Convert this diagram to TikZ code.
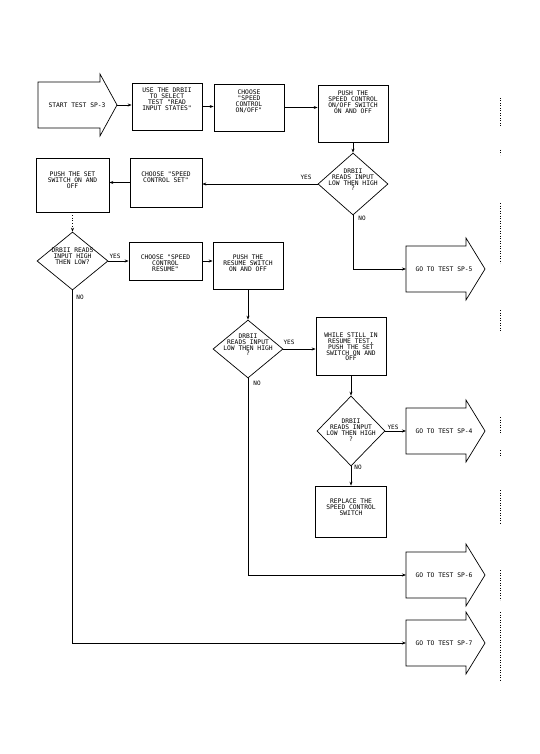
\documentclass[tikz,border=0pt]{standalone}
\usepackage{fontspec}
\newfontfamily\lett{DejaVu Sans Mono}
\usetikzlibrary{shapes.geometric,arrows.meta}
\newcommand\goarr[3]{%
  \draw (406,#2-23) -- (466,#2-23) -- (466,#2-31) -- (485,#2) -- (466,#2+31) -- (466,#2+23) -- (406,#2+23) -- cycle;
  \coordinate (#1) at (406,#2);
  \node[lab] (#1t) at (444,#2) {#3};}
\begin{document}
\begin{tikzpicture}[x=1pt,y=-1pt,line width=0.7pt,
  lab/.style={font=\lett\fontsize{6.3}{5.8}\selectfont, align=center, inner sep=0pt},
  bx/.style={draw, rectangle, inner sep=0pt},
  dec/.style={draw, diamond, inner sep=0pt},
  arr/.style={-{Stealth[length=4pt,width=3pt]}},
  tag/.style={font=\lett\fontsize{6}{6}\selectfont, inner sep=0pt},
  scan/.style={line width=0.5pt, dotted}]
\useasboundingbox (0,0) rectangle (539,754);

% start arrow
\draw (38,82) -- (100,82) -- (100,74) -- (117,105) -- (100,136) -- (100,128) -- (38,128) -- cycle;
\coordinate (sttip) at (117,105);
\node[lab] (stt) at (77,105) {START TEST SP-3};

% boxes
\node[bx, minimum width=70pt, minimum height=47pt,
  label={[lab,anchor=north,yshift=-5pt]north:{USE THE DRBII\\TO SELECT\\TEST "READ\\INPUT STATES"}}] (b1) at (167,106.5) {};
\node[bx, minimum width=70pt, minimum height=47pt,
  label={[lab,anchor=north,yshift=-6pt]north:{CHOOSE\\"SPEED\\CONTROL\\ON/OFF"}}] (b2) at (249,107.5) {};
\node[bx, minimum width=70pt, minimum height=57pt,
  label={[lab,anchor=north,yshift=-6pt]north:{PUSH THE\\SPEED CONTROL\\ON/OFF SWITCH\\ON AND OFF}}] (b3) at (353,113.5) {};
\node[bx, minimum width=72pt, minimum height=49pt,
  label={[lab,anchor=north,yshift=-14pt]north:{CHOOSE "SPEED\\CONTROL SET"}}] (bset) at (166,182.5) {};
\node[bx, minimum width=73pt, minimum height=54pt,
  label={[lab,anchor=north,yshift=-14pt]north:{PUSH THE SET\\SWITCH ON AND\\OFF}}] (bpset) at (72.5,185) {};
\node[bx, minimum width=73pt, minimum height=38pt,
  label={[lab,anchor=north,yshift=-13pt]north:{CHOOSE "SPEED\\CONTROL\\RESUME"}}] (bres) at (165.5,261) {};
\node[bx, minimum width=70pt, minimum height=47pt,
  label={[lab,anchor=north,yshift=-13pt]north:{PUSH THE\\RESUME SWITCH\\ON AND OFF}}] (bpres) at (248,265.5) {};
\node[bx, minimum width=70pt, minimum height=58pt,
  label={[lab,anchor=north,yshift=-16pt]north:{WHILE STILL IN\\RESUME TEST,\\PUSH THE SET\\SWITCH ON AND\\OFF}}] (bwh) at (351,346) {};
\node[bx, minimum width=71pt, minimum height=51pt,
  label={[lab,anchor=north,yshift=-13pt]north:{REPLACE THE\\SPEED CONTROL\\SWITCH}}] (brep) at (351,511.5) {};

% decisions
\node[dec, minimum width=70pt, minimum height=62pt,
  label={[lab,yshift=4pt]center:{DRBII\\READS INPUT\\LOW THEN HIGH\\?}}] (d1) at (353,184) {};
\node[dec, minimum width=71pt, minimum height=58pt,
  label={[lab,yshift=5pt]center:{DRBII READS\\INPUT HIGH\\THEN LOW?}}] (d2) at (72.5,261) {};
\node[dec, minimum width=70pt, minimum height=58pt,
  label={[lab,yshift=4pt]center:{DRBII\\READS INPUT\\LOW THEN HIGH\\?}}] (d3) at (248,349) {};
\node[dec, minimum width=68pt, minimum height=70pt,
  label={[lab,yshift=1pt]center:{DRBII\\READS INPUT\\LOW THEN HIGH\\?}}] (d4) at (351,431) {};

% go-to arrows
\goarr{sp5}{269}{GO TO TEST SP-5}
\goarr{sp4}{431}{GO TO TEST SP-4}
\goarr{sp6}{575}{GO TO TEST SP-6}
\goarr{sp7}{643}{GO TO TEST SP-7}

% connectors
\draw[arr] (sttip) -- (sttip -| b1.west);
\draw[arr] (b1.east) -- (b1.east -| b2.west);
\draw[arr] (b2.east) -- (b2.east -| b3.west);
\draw[arr] (b3.south) -- (d1.north);
\draw[arr] (d1.west) -- (d1.west -| bset.east);
\draw[arr] (bset.west) -- (bset.west -| bpset.east);
\draw[arr, dotted] (bpset.south) -- (d2.north);
\draw[arr] (d2.east) -- (d2.east -| bres.west);
\draw[arr] (bres.east) -- (bres.east -| bpres.west);
\draw[arr] (bpres.south) -- (d3.north);
\draw[arr] (d3.east) -- (d3.east -| bwh.west);
\draw[arr] (bwh.south) -- (d4.north);
\draw[arr] (d4.east) -- (sp4);
\draw[arr] (d4.south) -- (brep.north);
\draw[arr] (d1.south) |- (sp5);
\draw[arr] (d3.south) |- (sp6);
\draw[arr] (d2.south) |- (sp7);

% branch labels
\node[tag] (y1) at (306,177) {YES};
\node[tag] (n1) at (362,218) {NO};
\node[tag] (y2) at (115,256) {YES};
\node[tag] (n2) at (80,297) {NO};
\node[tag] (y3) at (289,342) {YES};
\node[tag] (n3) at (257,383) {NO};
\node[tag] (y4) at (393,427) {YES};
\node[tag] (n4) at (358,467) {NO};

% scan marks at right margin
\draw[scan] (500,98) -- (500,127);
\draw[scan] (500,150) -- (500,155);
\draw[scan] (500,203) -- (500,263);
\draw[scan] (500,310) -- (500,332);
\draw[scan] (500,417) -- (500,433);
\draw[scan] (500,450) -- (500,457);
\draw[scan] (500,490) -- (500,523);
\draw[scan] (500,570) -- (500,600);
\draw[scan] (500,612) -- (500,680);
\end{tikzpicture}
\end{document}
